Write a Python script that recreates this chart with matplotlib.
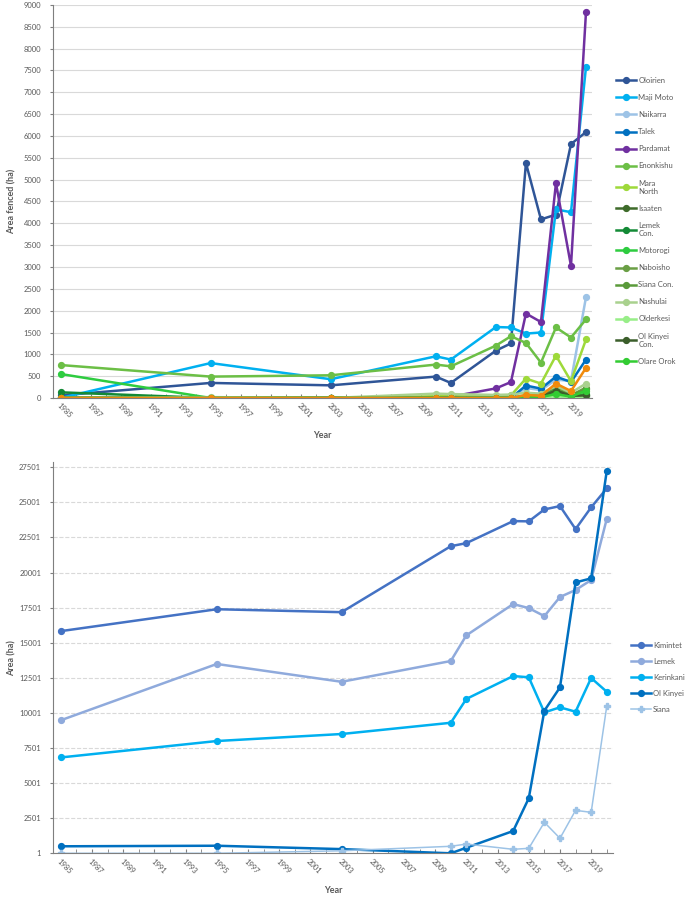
import numpy as np
import matplotlib.pyplot as plt

plt.rcParams['font.family'] = ['Lato', 'DejaVu Sans']

# Dataset - top chart (area fenced per conservancy)
years = [1985, 1995, 2003, 2010, 2011, 2014, 2015, 2016, 2017, 2018, 2019, 2020]

top_names = ['Oloirien', 'Maji Moto', 'Naikarra', 'Talek', 'Pardamat', 'Enonkishu',
             'Mara\nNorth', 'Isaaten', 'Lemek\nCon.', 'Motorogi', 'Naboisho',
             'Siana Con.', 'Nashulai', 'Olderkesi', 'Ol Kinyei\nCon.', 'Olare Orok', '_other']
top_colors = ['#2F5597', '#00B0F0', '#9DC3E6', '#0070C0', '#7030A0', '#6CBF46',
              '#9ED93A', '#3E6B2A', '#138A36', '#2ECC40', '#6A9F45',
              '#5A9A3A', '#A9D18E', '#98EE88', '#3B5E2B', '#33CC33', '#F08A0C']
top_values = [
    [60, 345, 290, 490, 345, 1085, 1250, 5380, 4090, 4200, 5815, 6090],
    [0, 800, 430, 955, 880, 1625, 1615, 1475, 1500, 4320, 4255, 7580],
    [0, 0, 0, 0, 0, 0, 0, 230, 180, 420, 390, 2310],
    [0, 0, 0, 0, 0, 0, 0, 285, 215, 490, 365, 880],
    [0, 0, 0, 0, 30, 220, 365, 1935, 1740, 4920, 3025, 8840],
    [755, 490, 520, 765, 725, 1200, 1415, 1260, 810, 1615, 1385, 1800],
    [0, 0, 0, 40, 80, 50, 60, 445, 330, 970, 385, 1340],
    [0, 0, 0, 0, 0, 0, 0, 30, 60, 200, 40, 80],
    [130, 0, 0, 0, 0, 0, 0, 40, 20, 150, 30, 50],
    [550, 0, 0, 0, 0, 0, 0, 10, 20, 120, 30, 100],
    [0, 0, 0, 0, 0, 0, 0, 50, 70, 250, 60, 240],
    [0, 0, 0, 0, 0, 0, 0, 60, 80, 180, 60, 200],
    [0, 20, 0, 100, 90, 70, 80, 120, 100, 280, 120, 330],
    [0, 0, 0, 0, 0, 0, 0, 0, 10, 40, 10, 20],
    [0, 0, 0, 0, 0, 0, 0, 20, 30, 170, 50, 60],
    [0, 0, 0, 0, 0, 0, 0, 20, 20, 90, 30, 170],
    [0, 0, 0, 0, 0, 0, 0, 70, 50, 330, 160, 690],
]

# Dataset - bottom chart (total area)
bot_names = ['Kimintet', 'Lemek', 'Kerinkani', 'Ol Kinyei', 'Siana']
bot_colors = ['#4472C4', '#8FAADC', '#00B0F0', '#0070C0', '#9DC3E6']
kimintet = [15830, 17390, 17180, 21880, 22100, 23670, 23650, 24500, 24740, 23100, 24650, 26000]
lemek = [9480, 13490, 12220, 13700, 15530, 17760, 17470, 16900, 18260, 18760, 19470, 23830]
kerinkani = [6830, 8000, 8500, 9300, 11000, 12630, 12540, 10040, 10400, 10090, 12490, 11510]
ol_kinyei = [500, 540, 300, 1, 400, 1590, 3920, 10160, 11820, 19300, 19590, 27250]
siana = [1, 1, 180, 500, 660, 285, 355, 2210, 1070, 3060, 2920, 10490]
bot_values = [kimintet, lemek, kerinkani, ol_kinyei, siana]

grey = '#595959'
tick_years = np.arange(1985, 2020, 2)


def style_axes(ax, grid_style):
    ax.spines['top'].set_visible(False)
    ax.spines['right'].set_visible(False)
    ax.spines['left'].set_color('#7F7F7F')
    ax.spines['bottom'].set_color('#7F7F7F')
    ax.set_xlim(1984.5, 2020.4)
    ax.set_xticks(tick_years)
    ax.set_xticks(np.arange(1985, 2021), minor=True)
    ax.set_xticklabels([str(y) for y in tick_years], rotation=-45, ha='left', va='top',
                       rotation_mode='anchor', fontsize=5.5, color=grey)
    ax.tick_params(axis='x', which='both', direction='in', length=3, color='#7F7F7F', pad=3)
    ax.tick_params(axis='y', length=2.5, color='#7F7F7F', labelsize=5.5, labelcolor=grey, pad=6)
    ax.grid(axis='y', color='#D9D9D9', linewidth=0.8, linestyle=grid_style)
    ax.set_axisbelow(True)
    ax.set_xlabel('Year', fontsize=6.5, fontweight='bold', color=grey, labelpad=8)


fig = plt.figure(figsize=(6.85, 8.99), dpi=100)

# top chart
ax1 = fig.add_axes([53 / 685, 1 - 398 / 899, (592 - 53) / 685, (398 - 5) / 899])
for name, color, vals in zip(top_names, top_colors, top_values):
    ax1.plot(years, vals, '-o', color=color, linewidth=1.8, markersize=4.2, label=name)
ax1.set_ylim(0, 9000)
ax1.set_yticks(np.arange(0, 9001, 500))
style_axes(ax1, '-')
ax1.set_ylabel('Area fenced (ha)', fontsize=6.5, fontweight='bold', color=grey)
ax1.yaxis.set_label_coords(-36 / 539, 0.5)
ax1.legend(loc='upper left', bbox_to_anchor=(616 / 685, 1 - 77 / 899),
           bbox_transform=fig.transFigure, frameon=False, fontsize=5.5,
           handlelength=2.6, handletextpad=0.3, labelspacing=1.32, borderpad=0,
           borderaxespad=0, labelcolor=grey)

# bottom chart
ax2 = fig.add_axes([53 / 685, 1 - 853.3 / 899, (613 - 53) / 685, (853.3 - 462) / 899])
for name, color, vals in zip(bot_names, bot_colors, bot_values):
    if name == 'Siana':
        ax2.plot(years, vals, '-P', color=color, linewidth=1.1, markersize=4, label=name)
    else:
        ax2.plot(years, vals, '-o', color=color, linewidth=1.8, markersize=4.2, label=name)
ax2.set_ylim(1, 27880)
ax2.set_yticks(np.arange(1, 27502, 2500))
style_axes(ax2, '--')
ax2.set_ylabel('Area (ha)', fontsize=6.5, fontweight='bold', color=grey)
ax2.yaxis.set_label_coords(-36 / 560, 0.5)
ax2.legend(loc='upper left', bbox_to_anchor=(631 / 685, 1 - 642 / 899),
           bbox_transform=fig.transFigure, frameon=False, fontsize=5.5,
           handlelength=2.6, handletextpad=0.3, labelspacing=1.18, borderpad=0,
           borderaxespad=0, labelcolor=grey)

plt.savefig('out.png', dpi=100)
